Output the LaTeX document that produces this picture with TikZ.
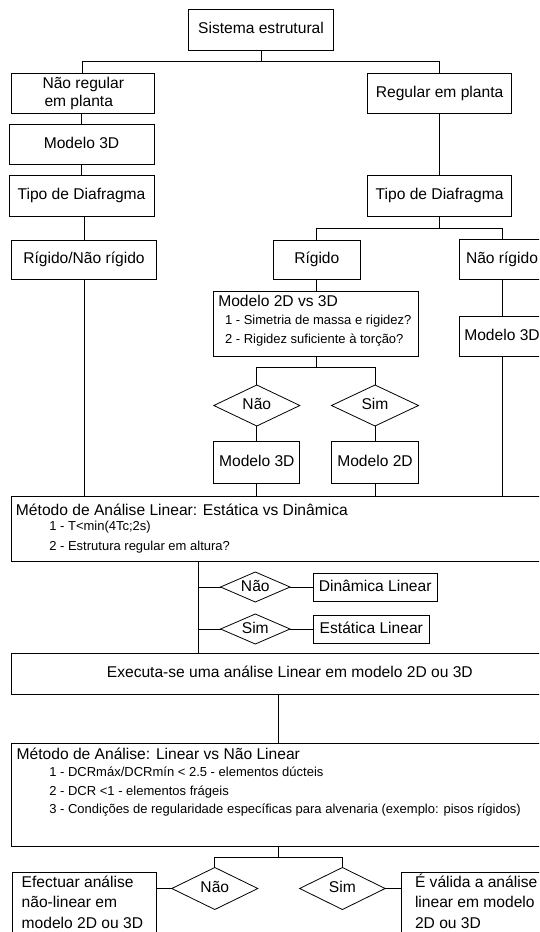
\documentclass[tikz,border=0pt]{standalone}
\usepackage{fontspec}
\setmainfont{Liberation Sans}
\usetikzlibrary{shapes.geometric}
\begin{document}
\begin{tikzpicture}[x=1pt,y=-1pt,
  line width=0.8pt,
  every node/.style={inner sep=0pt, outer sep=0pt},
  box/.style={draw, rectangle, font=\fontsize{15.6}{18}\selectfont, text height=11.5pt, text depth=3.5pt},
  dec/.style={draw, diamond, shape aspect=2.2, font=\fontsize{15.6}{18}\selectfont, text height=11.5pt, text depth=3.5pt},
  big/.style={font=\fontsize{15.6}{18}\selectfont, anchor=base west},
  small/.style={font=\fontsize{13}{15}\selectfont, anchor=base west}
]
\useasboundingbox (0,0) rectangle (539,932);
\clip (0,0) rectangle (539,932);
\fill[white] (0,0) rectangle (539,932);

% top
\node[box, minimum width=145pt, minimum height=41pt] (sys) at (261,29.5) {Sistema estrutural};
\node[box, minimum width=143pt, minimum height=40pt] (naoreg) at (82.5,93) {};
\node[big] (naoregA) at (42.5,88.3) {Não regular};
\node[big] (naoregB) at (44.5,106.7) {em planta};
\node[box, minimum width=143.7pt, minimum height=40pt] (reg) at (439.6,93) {Regular em planta};

% left column
\node[box, minimum width=145pt, minimum height=40pt] (m3dL) at (81.5,144) {Modelo 3D};
\node[box, minimum width=145pt, minimum height=41pt] (tipoL) at (81.5,195.5) {Tipo de Diafragma};
\node[box, minimum width=144.7pt, minimum height=39pt] (rigNR) at (84,259.5) {Rígido/Não rígido};

% right column
\node[box, minimum width=144.5pt, minimum height=41pt] (tipoR) at (439.6,195.5) {Tipo de Diafragma};
\node[box, minimum width=86.4pt, minimum height=39pt] (rig) at (316.8,259.5) {Rígido};
\node[box, minimum width=86pt, minimum height=40pt] (naorig) at (502,259) {Não rígido};
\node[box, minimum width=86pt, minimum height=40pt] (m3dR) at (502,336) {Modelo 3D};

% 2D vs 3D
\node[box, minimum width=204.6pt, minimum height=65pt] (m2d3d) at (316.1,323.5) {};
\node[big] (m2d3dT) at (218.3,306.7) {Modelo 2D vs 3D};
\node[small] (m2d3dA) at (225,324.3) {1 - Simetria de massa e rigidez?};
\node[small] (m2d3dB) at (225,343) {2 - Rigidez suficiente à torção?};
\node[dec, minimum width=86pt, minimum height=41pt] (dNao1) at (256.8,405.5) {Não};
\node[dec, minimum width=87pt, minimum height=41pt] (dSim1) at (375,405.5) {Sim};
\node[box, minimum width=86pt, minimum height=42pt] (m3dM) at (256.8,462) {Modelo 3D};
\node[box, minimum width=86.7pt, minimum height=42pt] (m2dM) at (375,462) {Modelo 2D};

% linear method
\node[box, minimum width=556.3pt, minimum height=65pt] (metLin) at (289.85,528.5) {};
\node[big] (metLinT) at (16,515) {Método de Análise Linear: Estática vs Dinâmica};
\node[small] (metLinA) at (49.3,530.7) {1 - T<min(4Tc;2s)};
\node[small] (metLinB) at (49.3,550) {2 - Estrutura regular em altura?};
\node[dec, shape aspect=2.3, minimum width=69.5pt, minimum height=30pt] (dNao2) at (255.3,587) {Não};
\node[dec, shape aspect=2.3, minimum width=69.5pt, minimum height=30pt] (dSim2) at (255.3,629) {Sim};
\node[box, minimum width=123.7pt, minimum height=28pt] (dyn) at (375.2,587) {Dinâmica Linear};
\node[box, minimum width=116pt, minimum height=28pt] (sta) at (371.3,629) {Estática Linear};
\node[box, minimum width=556.3pt, minimum height=41pt] (exe) at (289.85,673.5) {Executa-se uma análise Linear em modelo 2D ou 3D};

% non linear method
\node[box, minimum width=556.3pt, minimum height=103pt] (metNL) at (289.85,794.5) {};
\node[big] (metNLT) at (16.7,759) {Método de Análise: Linear vs Não Linear};
\node[small] (metNLA) at (49.3,776.7) {1 - DCRmáx/DCRmín < 2.5 - elementos dúcteis};
\node[small] (metNLB) at (49.3,795) {2 - DCR <1 - elementos frágeis};
\node[small] (metNLC) at (49.3,813.3) {3 - Condições de regularidade específicas para alvenaria (exemplo: pisos rígidos)};
\node[dec, minimum width=86pt, minimum height=42pt] (dNao3) at (214.8,888.5) {Não};
\node[dec, minimum width=85.5pt, minimum height=42pt] (dSim3) at (342.4,888.5) {Sim};
\node[box, minimum width=144pt, minimum height=80pt] (efe) at (84,912) {};
\node[big] (efeA) at (21.7,887) {Efectuar análise};
\node[big] (efeB) at (21.7,907.5) {não-linear em};
\node[big] (efeC) at (21.7,928) {modelo 2D ou 3D};
\node[box, minimum width=148.3pt, minimum height=80pt] (val) at (475.85,912) {};
\node[big] (valA) at (415,887) {É válida a análise};
\node[big] (valB) at (415,907.5) {linear em modelo};
\node[big] (valC) at (415,928) {2D ou 3D};

% connectors
\draw (sys.south) -- ++(0,11) -| (naoreg.north);
\draw (sys.south) ++(0,11) -| (reg.north);
\draw (m3dL.north |- naoreg.south) -- (m3dL.north);
\draw (m3dL.south) -- (tipoL.north);
\draw (rigNR.north |- tipoL.south) -- (rigNR.north);
\draw (rigNR.south) -- (rigNR.south |- metLin.north);
\draw (reg.south) -- (tipoR.north);
\draw (tipoR.south) -- ++(0,12.5) -| (rig.north);
\draw (tipoR.south) ++(0,12.5) -| (naorig.north);
\draw (rig.south) -- (rig.south |- m2d3d.north);
\draw (m2d3d.south) -- ++(0,11) -| (dNao1.north);
\draw (m2d3d.south) ++(0,11) -| (dSim1.north);
\draw (dNao1.south) -- (m3dM.north);
\draw (dSim1.south) -- (m2dM.north);
\draw (m3dM.south) -- (m3dM.south |- metLin.north);
\draw (m2dM.south) -- (m2dM.south |- metLin.north);
\draw (naorig.south) -- (m3dR.north);
\draw (m3dR.south) -- (m3dR.south |- metLin.north);
\coordinate (spine) at (198.5,600);
\draw (spine |- metLin.south) -- (spine |- exe.north);
\draw (spine |- dNao2.west) -- (dNao2.west);
\draw (spine |- dSim2.west) -- (dSim2.west);
\draw (dNao2.east) -- (dyn.west);
\draw (dSim2.east) -- (sta.west);
\coordinate (mid) at (278.4,720);
\draw (mid |- exe.south) -- (mid |- metNL.north);
\draw (mid |- metNL.south) -- ++(0,11) -| (dNao3.north);
\draw (mid |- metNL.south) ++(0,11) -| (dSim3.north);
\draw (efe.east |- dNao3.west) -- (dNao3.west);
\draw (dSim3.east) -- (dSim3.east -| val.west);
\end{tikzpicture}
\end{document}
